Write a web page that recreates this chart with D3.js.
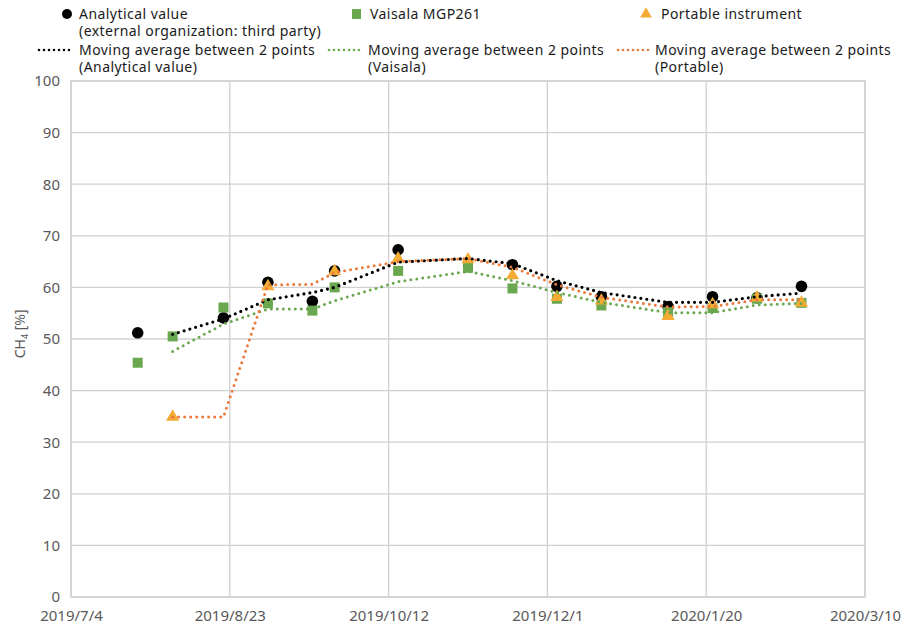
<!DOCTYPE html>
<html>
<head>
<meta charset="utf-8">
<script src="https://cdn.jsdelivr.net/npm/d3@7"></script>
<style>
  body { margin: 0; background: #fff; }
  text { font-family: "Noto Sans", "Open Sans", sans-serif; }
  .tick-label { fill: #595959; font-size: 15px; }
  .legend-text { fill: #1a1a1a; font-size: 14px; letter-spacing: 0.45px; }
</style>
</head>
<body>
<div id="viz"></div>
<script>

// sampling dates
const dates = ["2019-07-25","2019-08-05","2019-08-21","2019-09-04","2019-09-18","2019-09-25","2019-10-15",
  "2019-11-06","2019-11-20","2019-12-04","2019-12-18","2020-01-08","2020-01-22","2020-02-05","2020-02-19"];

// CH4 [%] readings (null = no marker)
const analytical = [51.2, null, 54.1, 61.0, 57.3, 63.2, 67.3, null, 64.4, 60.2, 58.2, 56.3, 58.2, 58.0, 60.2];
const vaisala    = [45.4, 50.5, 56.1, 56.9, 55.5, 60.0, 63.2, 63.8, 59.8, 57.8, 56.5, 55.2, 56.0, 57.8, 57.0];
const portable   = [null, 34.9, null, 60.2, null, 63.1, 65.6, 65.4, 62.3, 58.1, 57.4, 54.4, 56.7, 58.0, 57.0];

// 2-point moving average trend lines
const maAnalytical = [null, 50.9, 53.9, 57.6, 59.0, 60.0, 64.9, 65.6, 64.6, 61.3, 59.0, 57.1, 57.1, 58.2, 58.9];
const maVaisala    = [null, 47.6, 52.9, 55.8, 55.8, 57.4, 61.1, 63.1, 61.3, 59.0, 57.1, 55.1, 55.1, 56.6, 56.9];
const maPortable   = [null, 34.9, 34.9, 60.5, 60.6, 62.9, 65.0, 65.6, 63.9, 60.5, 58.1, 56.2, 56.3, 57.6, 57.6];

const xTicks = ["2019-07-04","2019-08-23","2019-10-12","2019-12-01","2020-01-20","2020-03-10"];
const yTicks = [0, 10, 20, 30, 40, 50, 60, 70, 80, 90, 100];

const W = 922, H = 626;
const margin = {top: 81, right: 57, bottom: 29, left: 71},
    width = W - margin.left - margin.right,
    height = H - margin.top - margin.bottom;

const parse = d3.timeParse("%Y-%m-%d");
const fmt = d3.timeFormat("%Y/%-m/%-d");

const svg = d3.select("#viz")
  .append("svg")
  .attr("width", W)
  .attr("height", H);

const g = svg.append("g")
    .attr("transform", `translate(${margin.left}, ${margin.top})`);

const x = d3.scaleTime()
    .domain([parse(xTicks[0]), parse(xTicks[xTicks.length - 1])])
    .range([0, width]);

const y = d3.scaleLinear()
    .domain([0, 100])
    .range([height, 0]);

// gridlines
g.append("g")
  .selectAll("line")
  .data(yTicks)
  .join("line")
    .attr("x1", 0).attr("x2", width)
    .attr("y1", d => y(d)).attr("y2", d => y(d))
    .attr("stroke", "#d0d0d0").attr("stroke-width", 1.3);

g.append("g")
  .selectAll("line")
  .data(xTicks)
  .join("line")
    .attr("x1", d => x(parse(d))).attr("x2", d => x(parse(d)))
    .attr("y1", 0).attr("y2", height)
    .attr("stroke", "#d0d0d0").attr("stroke-width", 1.3);

// y axis labels
const yAxis = g.append("g")
    .call(d3.axisLeft(y).tickValues(yTicks).tickSize(0).tickPadding(11));
yAxis.select(".domain").remove();
yAxis.selectAll("text").attr("class", "tick-label").attr("font-family", null).attr("font-size", null);

// x axis labels
const xAxis = g.append("g")
    .attr("transform", `translate(0, ${height})`)
    .call(d3.axisBottom(x).tickValues(xTicks.map(parse)).tickFormat(fmt).tickSize(0).tickPadding(13));
xAxis.select(".domain").remove();
xAxis.selectAll("text").attr("class", "tick-label").attr("font-family", null).attr("font-size", null);

// y title
const yTitle = svg.append("text")
    .attr("transform", `translate(25, ${margin.top + y(51)}) rotate(-90)`)
    .attr("text-anchor", "middle")
    .attr("fill", "#595959")
    .attr("font-size", 14);
yTitle.append("tspan").text("CH");
yTitle.append("tspan").attr("font-size", 9).attr("dy", 3).text("4");
yTitle.append("tspan").attr("dy", -3).text(" [%]");

const pts = vals => dates.map((d, i) => ({date: parse(d), v: vals[i]})).filter(d => d.v != null);

// markers
g.append("g")
  .selectAll("circle")
  .data(pts(analytical))
  .join("circle")
    .attr("cx", d => x(d.date)).attr("cy", d => y(d.v))
    .attr("r", 5.8).attr("fill", "#000");

g.append("g")
  .selectAll("rect")
  .data(pts(vaisala))
  .join("rect")
    .attr("x", d => x(d.date) - 5).attr("y", d => y(d.v) - 5)
    .attr("width", 10).attr("height", 10)
    .attr("fill", "#6aa84f");

const tri = d3.symbol().type(d3.symbolTriangle).size(75);
g.append("g")
  .selectAll("path")
  .data(pts(portable))
  .join("path")
    .attr("transform", d => `translate(${x(d.date)}, ${y(d.v)})`)
    .attr("d", tri)
    .attr("fill", "#f4ab34");

// moving averages
const line = d3.line().x(d => x(d.date)).y(d => y(d.v));
const maSeries = [
  {vals: maAnalytical, color: "#000000", w: 3.2},
  {vals: maVaisala, color: "#6aa84f", w: 3},
  {vals: maPortable, color: "#ea7a3c", w: 3}
];
g.append("g")
  .selectAll("path")
  .data(maSeries)
  .join("path")
    .attr("d", d => line(pts(d.vals)))
    .attr("fill", "none")
    .attr("stroke", d => d.color)
    .attr("stroke-width", d => d.w)
    .attr("stroke-linecap", "round")
    .attr("stroke-dasharray", "0,6");

// plot border
g.append("rect")
  .attr("width", width).attr("height", height)
  .attr("fill", "none").attr("stroke", "#d0d0d0").attr("stroke-width", 1.3);

// legend
const legend = svg.append("g");
legend.append("circle").attr("cx", 67).attr("cy", 14).attr("r", 5).attr("fill", "#000");
legend.append("rect").attr("x", 352).attr("y", 9).attr("width", 9).attr("height", 10).attr("fill", "#6aa84f");
legend.append("path").attr("transform", "translate(646, 14)").attr("d", d3.symbol().type(d3.symbolTriangle).size(60)).attr("fill", "#f4ab34");

const legendRows = [
  {x: 79, y: 19, lines: ["Analytical value", "(external organization: third party)"]},
  {x: 370, y: 19, lines: ["Vaisala MGP261"]},
  {x: 661, y: 19, lines: ["Portable instrument"]},
  {x: 79, y: 55, lines: ["Moving average between 2 points", "(Analytical value)"]},
  {x: 368, y: 55, lines: ["Moving average between 2 points", "(Vaisala)"]},
  {x: 655, y: 55, lines: ["Moving average between 2 points", "(Portable)"]}
];
legendRows.forEach(r => {
  const t = legend.append("text").attr("class", "legend-text").attr("x", r.x).attr("y", r.y);
  r.lines.forEach((s, i) => t.append("tspan").attr("x", r.x).attr("dy", i ? 16.5 : 0).text(s));
});

[{x1: 39, x2: 70, c: "#000"}, {x1: 329, x2: 362, c: "#6aa84f"}, {x1: 618, x2: 651, c: "#ea7a3c"}].forEach(s => {
  legend.append("line")
    .attr("x1", s.x1).attr("x2", s.x2).attr("y1", 50).attr("y2", 50)
    .attr("stroke", s.c).attr("stroke-width", 2.6)
    .attr("stroke-linecap", "round").attr("stroke-dasharray", "0,5");
});

</script>
</body>
</html>
